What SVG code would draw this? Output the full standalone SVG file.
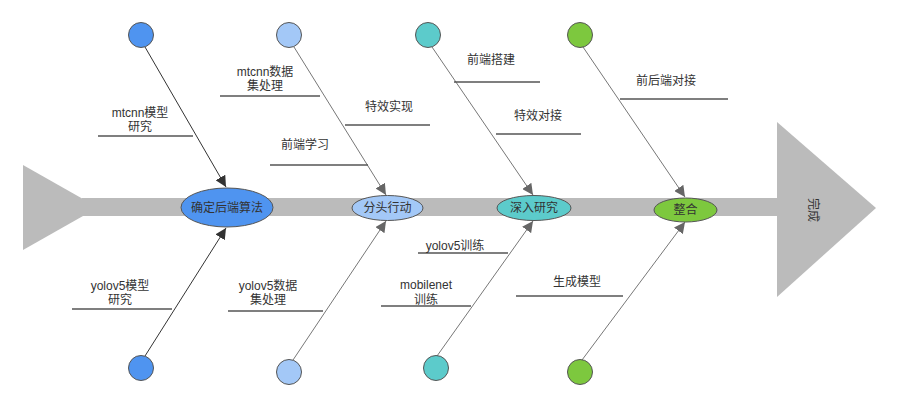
<svg xmlns="http://www.w3.org/2000/svg" width="900" height="408" viewBox="0 0 900 408">
<style>
text{font-family:"Liberation Sans","Noto Sans CJK SC",sans-serif;font-size:12px;fill:#333;text-anchor:middle}
.br{stroke:#555;stroke-width:1.6}
.c1{stroke:#333;stroke-width:1;fill:none}
.c2{stroke:#777;stroke-width:1;fill:none}
.nd{stroke:#555;stroke-width:1}
.spine{fill:#bbbbbb}
</style>
<defs>
<marker id="ad" viewBox="0 0 10 10" refX="10" refY="5" markerWidth="11" markerHeight="11" markerUnits="userSpaceOnUse" orient="auto"><path d="M0,0 L10,5 L0,10 z" fill="#333"/></marker>
<marker id="ag" viewBox="0 0 10 10" refX="10" refY="5" markerWidth="11" markerHeight="11" markerUnits="userSpaceOnUse" orient="auto"><path d="M0,0 L10,5 L0,10 z" fill="#666"/></marker>
</defs>
<g id="spine">
<polygon class="spine" points="23,165 83,199 83,216 23,250"/>
<rect class="spine" x="82" y="198" width="696" height="18"/>
<polygon class="spine" points="777,122 876,208 777,297"/>
<text x="813" y="210" transform="rotate(90 813 210)" dy="4">完成</text>
</g>
<g id="connectors">
<line class="c1" x1="145" y1="47" x2="226" y2="187" marker-end="url(#ad)"/>
<line class="c1" x1="145" y1="356" x2="226" y2="228" marker-end="url(#ad)"/>
<line class="c2" x1="294" y1="47" x2="386" y2="195" marker-end="url(#ag)"/>
<line class="c2" x1="293" y1="360" x2="386" y2="221" marker-end="url(#ag)"/>
<line class="c2" x1="432" y1="47" x2="533" y2="195" marker-end="url(#ag)"/>
<line class="c2" x1="437" y1="356" x2="533" y2="221" marker-end="url(#ag)"/>
<line class="c2" x1="583" y1="47" x2="685" y2="197" marker-end="url(#ag)"/>
<line class="c2" x1="582" y1="360" x2="685" y2="222" marker-end="url(#ag)"/>
</g>
<g id="branches">
<line class="br" x1="98" y1="136" x2="193" y2="136"/>
<text x="140" y="117">mtcnn模型</text><text x="140" y="131">研究</text>
<line class="br" x1="220" y1="96" x2="320" y2="96"/>
<text x="265" y="76">mtcnn数据</text><text x="265" y="90">集处理</text>
<line class="br" x1="270" y1="165" x2="368" y2="165"/>
<text x="305" y="149">前端学习</text>
<line class="br" x1="345" y1="125" x2="430" y2="125"/>
<text x="389" y="111">特效实现</text>
<line class="br" x1="454" y1="82" x2="540" y2="82"/>
<text x="491" y="64">前端搭建</text>
<line class="br" x1="496" y1="134" x2="581" y2="134"/>
<text x="538" y="120">特效对接</text>
<line class="br" x1="620" y1="99" x2="728" y2="99"/>
<text x="666" y="85">前后端对接</text>
<line class="br" x1="72" y1="309" x2="172" y2="309"/>
<text x="120" y="290">yolov5模型</text><text x="120" y="304">研究</text>
<line class="br" x1="228" y1="311" x2="323" y2="311"/>
<text x="268" y="290">yolov5数据</text><text x="268" y="304">集处理</text>
<line class="br" x1="418" y1="253" x2="508" y2="253"/>
<text x="455" y="250">yolov5训练</text>
<line class="br" x1="381" y1="306" x2="471" y2="306"/>
<text x="426" y="289">mobilenet</text><text x="426" y="304">训练</text>
<line class="br" x1="516" y1="296" x2="623" y2="296"/>
<text x="577" y="286">生成模型</text>
</g>
<g id="n1"><ellipse class="nd" cx="227" cy="207.5" rx="46" ry="19.5" fill="#4f94f0"/><text x="227" y="212">确定后端算法</text></g>
<g id="n2"><ellipse class="nd" cx="387.5" cy="208" rx="35.5" ry="12.5" fill="#a3c8f7"/><text x="387.5" y="212">分头行动</text></g>
<g id="n3"><ellipse class="nd" cx="534" cy="208" rx="37" ry="12.5" fill="#5ccbcb"/><text x="534" y="212">深入研究</text></g>
<g id="n4"><ellipse class="nd" cx="685.5" cy="210" rx="31.5" ry="12" fill="#7dc83e"/><text x="685.5" y="214">整合</text></g>
<g id="t1"><circle class="nd" cx="141" cy="35" r="12.5" fill="#4f94f0"/></g>
<g id="t2"><circle class="nd" cx="289" cy="35" r="12.5" fill="#a3c8f7"/></g>
<g id="t3"><circle class="nd" cx="428" cy="35" r="12.5" fill="#5ccbcb"/></g>
<g id="t4"><circle class="nd" cx="580" cy="35" r="12.5" fill="#7dc83e"/></g>
<g id="b1"><circle class="nd" cx="141" cy="368" r="12.5" fill="#4f94f0"/></g>
<g id="b2"><circle class="nd" cx="289" cy="372" r="12.5" fill="#a3c8f7"/></g>
<g id="b3"><circle class="nd" cx="436" cy="368" r="12.5" fill="#5ccbcb"/></g>
<g id="b4"><circle class="nd" cx="580" cy="372" r="12.5" fill="#7dc83e"/></g>
</svg>
